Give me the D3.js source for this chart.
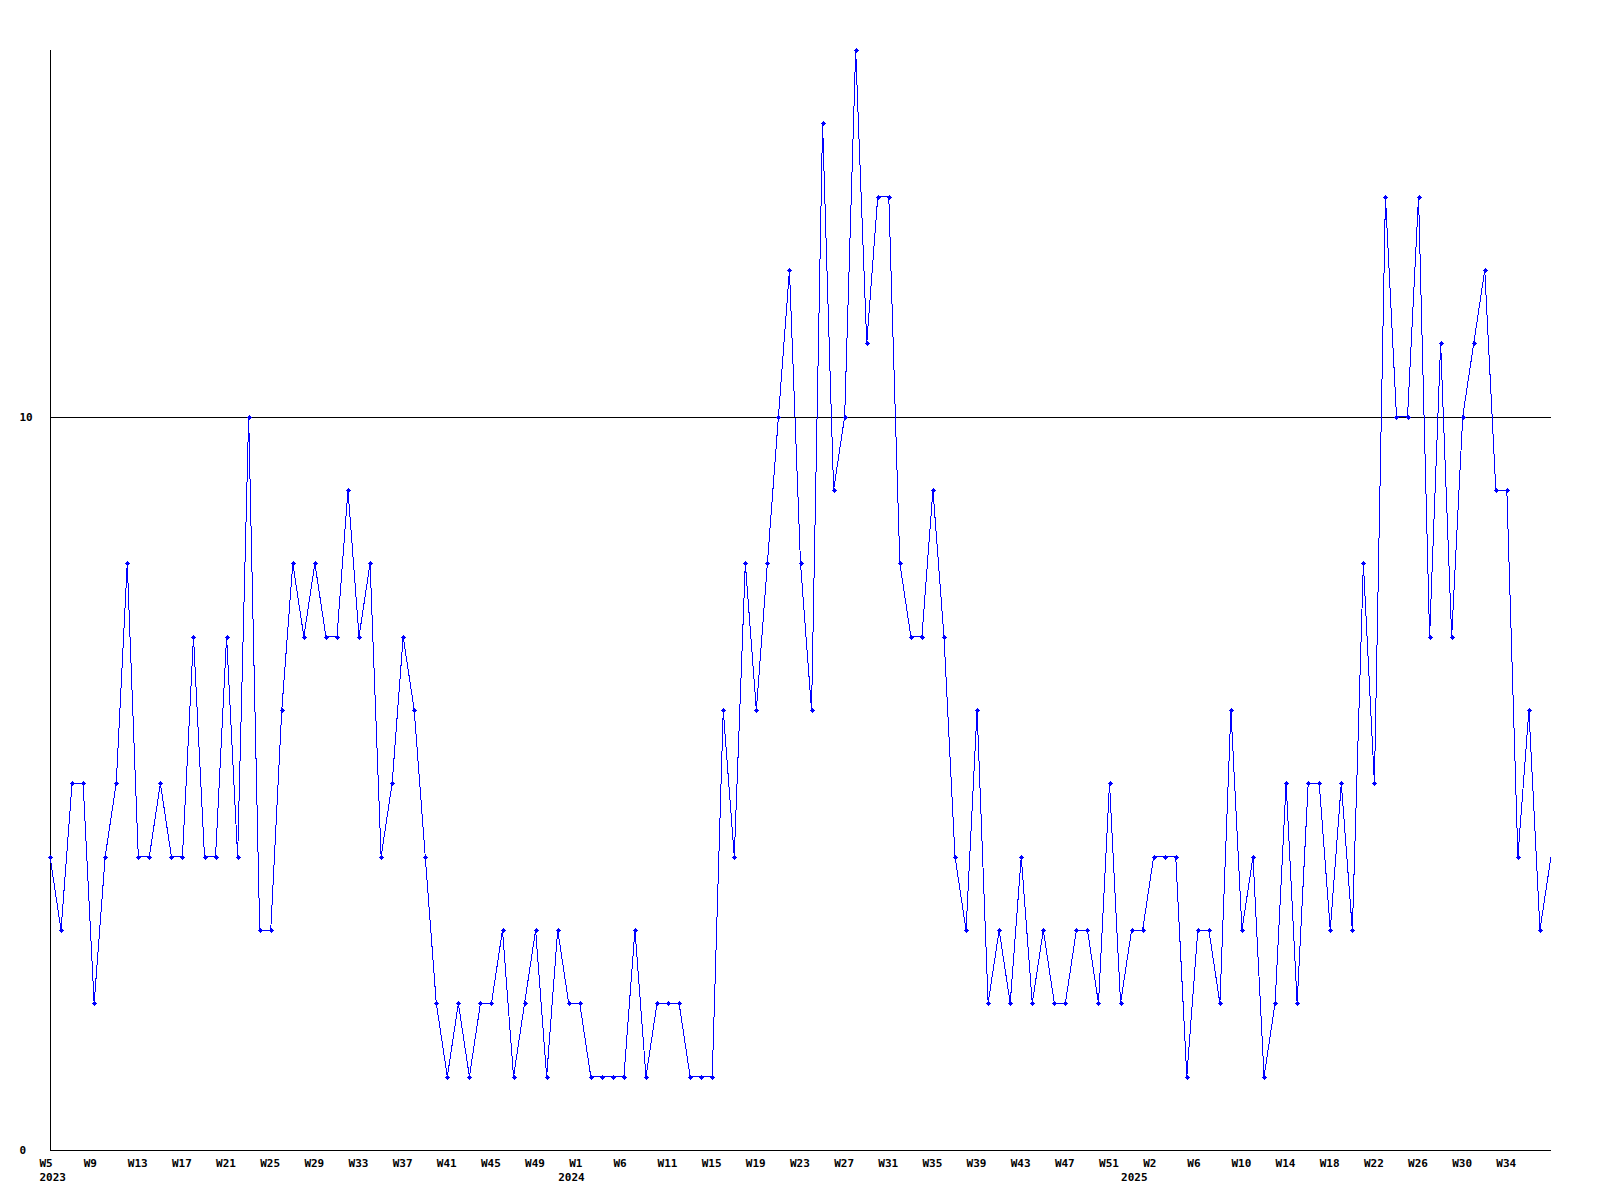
<!DOCTYPE html>
<html>
<head>
<meta charset="utf-8">
<script src="https://cdn.jsdelivr.net/npm/d3@7"></script>
<style>
  html, body { margin: 0; padding: 0; background: #ffffff; }
  svg { display: block; }
  text { font-family: "DejaVu Sans Mono", "Liberation Mono", monospace; font-weight: bold; font-size: 11px; fill: #000; }
</style>
</head>
<body>
<svg id="chart" width="1600" height="1200"></svg>
<script>
// Weekly values, 2023 W5 .. W52
const values2023 = [4,3,5,5,2,4,5,8,4,4,5,4,4,7,4,4,7,4,10,3,3,6,8,7,8,7,7,9,7,8,4,5,7,6,4,2,1,2,1,2,2,3,1,2,3,1,3,2];
// 2024 W1 .. W52
const values2024 = [2,1,1,1,1,3,1,2,2,2,1,1,1,6,4,8,6,8,10,12,8,6,14,9,10,15,11,13,13,8,7,7,9,7,4,3,6,2,3,2,4,2,3,2,2,3,3,2,5,2,3,3];
// 2025 W1 .. W37
const values2025 = [4,4,4,1,3,3,2,6,3,4,1,2,5,2,5,5,3,5,3,8,5,13,10,10,13,7,11,7,10,11,12,9,9,4,6,3,4];

// x-axis tick labels: one on every 4th point
const tickLabels = ["W5","W9","W13","W17","W21","W25","W29","W33","W37","W41","W45","W49",
                    "W1","W6","W11","W15","W19","W23","W27","W31","W35","W39","W43","W47",
                    "W51","W2","W6","W10","W14","W18","W22","W26","W30","W34"];
const tickEvery = 4;
const yearLabels = ["2023","2024","2025"];
const yearAt = [0, 47, 98];   // point index under which each year label sits
const yTickValues = [0, 10];
const refValue = 10;

const values = values2023.concat(values2024, values2025);
const data = values.map((v, i) => ({ i: i, v: v }));

const svg = d3.select("#chart");
const x = d3.scaleLinear().domain([0, values.length - 1]).range([50, 1551]);
const y = d3.scaleLinear().domain([0, 15]).range([1150, 50]);
const labelShift = -10.5;

// axes lines
svg.append("line")
  .attr("x1", x(0) + 0.5).attr("x2", x(0) + 0.5)
  .attr("y1", y(15)).attr("y2", y(0) + 0.5)
  .attr("stroke", "#000").attr("stroke-width", 1).attr("shape-rendering", "crispEdges");
svg.append("line")
  .attr("x1", x(0)).attr("x2", x(values.length - 1))
  .attr("y1", y(0) + 0.5).attr("y2", y(0) + 0.5)
  .attr("stroke", "#000").attr("stroke-width", 1).attr("shape-rendering", "crispEdges");

// reference line at 10
svg.append("line")
  .attr("x1", x(0)).attr("x2", x(values.length - 1))
  .attr("y1", Math.round(y(refValue)) + 0.5).attr("y2", Math.round(y(refValue)) + 0.5)
  .attr("stroke", "#000").attr("stroke-width", 1).attr("shape-rendering", "crispEdges");

// y labels
svg.selectAll("text.ylab").data(yTickValues).enter().append("text")
  .attr("class", "ylab")
  .attr("x", 19.5)
  .attr("y", d => y(d) + 4)
  .text(d => String(d));

// x labels
svg.selectAll("text.xlab").data(tickLabels).enter().append("text")
  .attr("class", "xlab")
  .attr("x", (d, k) => x(k * tickEvery) + labelShift)
  .attr("y", 1167)
  .text(d => d);

svg.selectAll("text.yearlab").data(yearLabels).enter().append("text")
  .attr("class", "yearlab")
  .attr("x", (d, k) => x(yearAt[k]) + labelShift)
  .attr("y", 1181)
  .text(d => d);

// series line
const line = d3.line().x(d => x(d.i)).y(d => y(d.v));
svg.append("path")
  .datum(data)
  .attr("d", line)
  .attr("fill", "none")
  .attr("stroke", "#0000ff")
  .attr("stroke-width", 1)
  .attr("shape-rendering", "crispEdges");

// markers: small diamonds (last point has none)
const mk = svg.append("g").attr("fill", "#0000ff").attr("shape-rendering", "crispEdges");
data.slice(0, data.length - 1).forEach(d => {
  const cx = Math.round(x(d.i)), cy = Math.round(y(d.v));
  mk.append("rect").attr("x", cx - 2).attr("y", cy).attr("width", 5).attr("height", 1);
  mk.append("rect").attr("x", cx - 1).attr("y", cy - 1).attr("width", 3).attr("height", 3);
  mk.append("rect").attr("x", cx).attr("y", cy - 2).attr("width", 1).attr("height", 5);
});
</script>
</body>
</html>
